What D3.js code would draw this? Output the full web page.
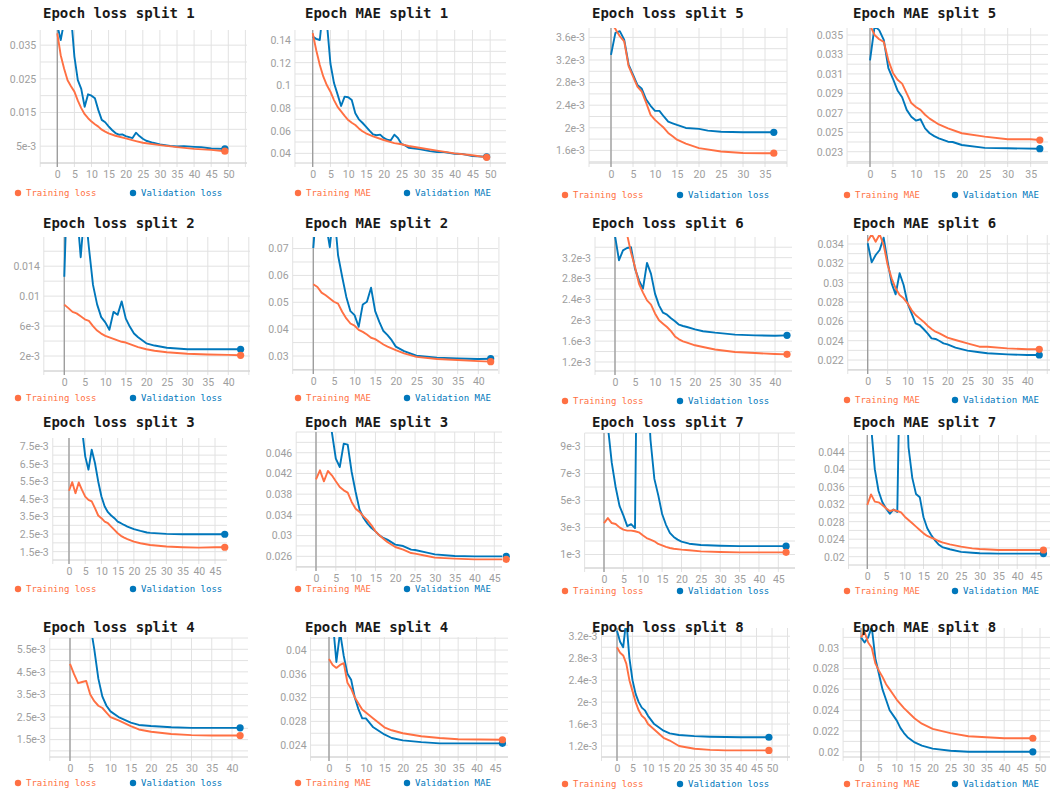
<!DOCTYPE html>
<html>
<head>
<meta charset="utf-8">
<script src="https://cdn.jsdelivr.net/npm/d3@7"></script>
<style>
  body { margin: 0; background: #fff; }
</style>
</head>
<body>
<svg class="chart"></svg>
<script>
var width = 1052,
    height = 794;

// ---- data: [epoch, value] ----
var loss1Train = [[0,.0385],[1,.032],[2,.028],[3,.0246],[4,.0228],[5,.0212],[6,.0185],[7,.0163],[8,.0145],[9,.0133],[10,.0123],[11,.0115],[12,.0108],[13,.0099],[14,.0093],[15,.0088],[17,.0081],[20,.0073],[23,.0065],[25,.006],[30,.0053],[35,.0047],[40,.0042],[45,.0039],[49,.0035]];
var loss1Val = [[0,.041],[1,.0365],[2,.042],[3,.048],[4,.044],[5,.0316],[6,.0246],[7,.022],[8,.0167],[9,.0204],[10,.02],[11,.0192],[12,.0157],[13,.0128],[14,.0121],[15,.0109],[16,.0098],[17,.0089],[18,.0084],[19,.0085],[20,.008],[21,.0077],[22,.0074],[23,.009],[24,.008],[25,.0072],[26,.0066],[28,.006],[30,.0055],[33,.0051],[35,.0049],[37,.005],[40,.0048],[42,.0047],[45,.0043],[49,.0042]];
var mae1Train = [[0,.146],[1,.131],[2,.118],[3,.1076],[4,.1],[5,.0944],[6,.087],[7,.081],[8,.077],[9,.073],[10,.0694],[11,.067],[12,.065],[13,.062],[14,.0595],[15,.0577],[17,.055],[20,.0518],[23,.049],[25,.048],[27,.0465],[30,.045],[35,.0424],[40,.04],[45,.0383],[49,.0365]];
var mae1Val = [[0,.143],[1,.141],[2,.14],[3,.17],[4,.155],[5,.119],[6,.102],[7,.092],[8,.0818],[9,.09],[10,.0895],[11,.087],[12,.0753],[13,.07],[14,.067],[15,.0635],[16,.06],[17,.0568],[18,.056],[19,.0565],[20,.0536],[21,.052],[22,.0515],[23,.0565],[24,.0536],[25,.0483],[26,.047],[27,.045],[30,.0438],[33,.042],[35,.0412],[37,.0412],[40,.0396],[42,.0395],[45,.0376],[49,.037]];

var loss2Train = [[0,.00887],[1,.0084],[2,.0079],[3,.0077],[4,.0073],[5,.0069],[6,.0067],[7,.006],[8,.0054],[9,.005],[10,.0047],[11,.0045],[12,.0043],[13,.0041],[14,.0039],[15,.0038],[16,.0036],[17,.0034],[18,.0032],[20,.0029],[22,.0027],[25,.0025],[30,.0023],[35,.0022],[40,.00215],[43,.0021]];
var loss2Val = [[0,.0126],[1,.03],[2,.028],[3,.022],[4,.0152],[5,.022],[6,.0165],[7,.0115],[8,.0089],[9,.0072],[10,.0065],[11,.0055],[12,.0079],[13,.0075],[14,.0093],[15,.007],[16,.0059],[17,.005],[18,.0045],[19,.0041],[20,.0037],[22,.0034],[25,.0031],[30,.0029],[35,.0029],[40,.0029],[43,.0029]];
var mae2Train = [[0,.0567],[1,.0557],[2,.0536],[3,.0526],[4,.0514],[5,.0502],[6,.0495],[7,.0465],[8,.044],[9,.0421],[10,.0413],[11,.0397],[12,.039],[13,.038],[14,.0368],[15,.0363],[16,.0353],[17,.0343],[18,.0335],[20,.0322],[22,.031],[25,.0297],[30,.0289],[35,.0285],[40,.0281],[43,.0279]];
var mae2Val = [[0,.0702],[1,.09],[2,.085],[3,.08],[4,.0705],[5,.085],[6,.0675],[7,.0595],[8,.052],[9,.0467],[10,.0452],[11,.0409],[12,.0492],[13,.0502],[14,.0554],[15,.0467],[16,.0427],[17,.0393],[18,.0378],[19,.0359],[20,.0335],[22,.0318],[25,.0301],[30,.0294],[35,.0291],[40,.0289],[43,.029]];

var loss3Train = [[0,4.97e-3],[1,5.46e-3],[2,4.83e-3],[3,5.44e-3],[4,5.02e-3],[5,4.64e-3],[6,4.45e-3],[7,4.36e-3],[8,3.98e-3],[9,3.56e-3],[10,3.405e-3],[11,3.21e-3],[12,3.12e-3],[13,2.93e-3],[14,2.74e-3],[15,2.55e-3],[16,2.4e-3],[17,2.3e-3],[18,2.22e-3],[20,2.07e-3],[22,1.98e-3],[25,1.88e-3],[30,1.79e-3],[35,1.75e-3],[40,1.73e-3],[45,1.75e-3],[48,1.75e-3]];
var loss3Val = [[0,.012],[1,.011],[2,.01],[3,.0095],[4,.0085],[5,6.93e-3],[6,6.17e-3],[7,7.31e-3],[8,6.55e-3],[9,5.5e-3],[10,4.64e-3],[11,4.07e-3],[12,3.75e-3],[13,3.56e-3],[14,3.405e-3],[15,3.21e-3],[16,3.12e-3],[17,3.02e-3],[18,2.93e-3],[20,2.78e-3],[22,2.68e-3],[24,2.59e-3],[25,2.57e-3],[30,2.51e-3],[35,2.49e-3],[40,2.49e-3],[48,2.49e-3]];
var mae3Train = [[0,.04086],[1,.0426],[2,.04048],[3,.04247],[4,.04164],[5,.04048],[6,.03938],[7,.03874],[8,.03829],[9,.03649],[10,.0352],[11,.03456],[12,.03372],[13,.03295],[14,.03198],[15,.03082],[16,.03005],[17,.02941],[18,.02877],[20,.0278],[22,.02729],[24,.02664],[25,.02651],[28,.02606],[30,.02574],[35,.02555],[40,.02542],[45,.02542],[48,.02542]];
var mae3Val = [[0,.06],[1,.058],[2,.055],[3,.052],[4,.05],[5,.04485],[6,.04325],[7,.04775],[8,.04756],[9,.04228],[10,.03842],[11,.03501],[12,.0334],[13,.03231],[14,.03147],[15,.03082],[16,.03005],[17,.02954],[18,.02922],[20,.02825],[22,.02799],[24,.02729],[25,.02722],[28,.02671],[30,.02638],[35,.02606],[40,.026],[48,.026]];

var loss4Train = [[0,4.85e-3],[1,4.4e-3],[2,4e-3],[3,4.05e-3],[4,4.1e-3],[5,3.5e-3],[6,3.2e-3],[7,3e-3],[8,2.9e-3],[9,2.7e-3],[10,2.5e-3],[12,2.35e-3],[15,2.1e-3],[17,1.95e-3],[20,1.85e-3],[25,1.75e-3],[30,1.7e-3],[35,1.68e-3],[42,1.68e-3]];
var loss4Val = [[0,.012],[1,.011],[2,.01],[3,.009],[4,.008],[5,6.6e-3],[6,5.5e-3],[7,4.2e-3],[8,3.4e-3],[9,3e-3],[10,2.75e-3],[12,2.5e-3],[15,2.25e-3],[17,2.15e-3],[20,2.1e-3],[25,2.05e-3],[30,2.02e-3],[42,2.02e-3]];
var mae4Train = [[0,.0385],[1,.0375],[2,.037],[3,.0375],[4,.0378],[5,.0345],[6,.0335],[7,.032],[8,.031],[9,.03],[10,.0295],[12,.0285],[15,.027],[17,.0265],[20,.026],[25,.0255],[30,.0252],[35,.025],[47,.0249]];
var mae4Val = [[0,.05],[1,.045],[2,.038],[3,.043],[4,.039],[5,.036],[6,.035],[7,.032],[8,.03],[9,.0285],[10,.0285],[12,.027],[15,.0258],[17,.0252],[20,.0248],[25,.0245],[30,.0243],[47,.0243]];

var loss5Train = [[0,3.85e-3],[1,3.75e-3],[2,3.62e-3],[3,3.53e-3],[4,3.09e-3],[5,2.91e-3],[6,2.73e-3],[7,2.64e-3],[8,2.44e-3],[9,2.23e-3],[10,2.14e-3],[11,2.07e-3],[12,2e-3],[13,1.91e-3],[14,1.85e-3],[15,1.79e-3],[17,1.72e-3],[20,1.64e-3],[25,1.58e-3],[30,1.555e-3],[35,1.55e-3],[37,1.55e-3]];
var loss5Val = [[0,3.29e-3],[1,3.68e-3],[2,3.71e-3],[3,3.56e-3],[4,3.12e-3],[5,2.94e-3],[6,2.76e-3],[7,2.69e-3],[8,2.5e-3],[9,2.39e-3],[10,2.3e-3],[11,2.3e-3],[12,2.2e-3],[13,2.11e-3],[14,2.08e-3],[15,2.05e-3],[17,1.997e-3],[20,1.98e-3],[22,1.95e-3],[25,1.93e-3],[30,1.92e-3],[35,1.92e-3],[37,1.92e-3]];
var mae5Train = [[0,.036],[1,.035],[2,.03456],[3,.0343],[4,.0324],[5,.0311],[6,.0304],[7,.03],[8,.029],[9,.028],[10,.0276],[11,.0273],[12,.0268],[13,.0264],[15,.0258],[17,.02541],[20,.0249],[25,.02455],[30,.02428],[35,.02428],[37,.0242]];
var mae5Val = [[0,.0324],[1,.0359],[2,.0355],[3,.0345],[4,.0316],[5,.0305],[6,.0293],[7,.0286],[8,.0273],[9,.0266],[10,.0262],[11,.02634],[12,.0254],[13,.0249],[14,.0246],[15,.02438],[17,.02403],[18,.024],[20,.02369],[25,.0234],[30,.02335],[37,.02331]];

var loss6Train = [[0,3.9e-3],[1,3.8e-3],[2,3.75e-3],[3,3.65e-3],[4,3.3e-3],[5,3.02e-3],[6,2.7e-3],[7,2.53e-3],[8,2.38e-3],[9,2.3e-3],[10,2.13e-3],[11,2e-3],[12,1.934e-3],[13,1.87e-3],[14,1.79e-3],[15,1.69e-3],[16,1.634e-3],[17,1.596e-3],[18,1.57e-3],[20,1.52e-3],[22,1.487e-3],[25,1.44e-3],[30,1.39e-3],[35,1.372e-3],[40,1.353e-3],[43,1.346e-3]];
var loss6Val = [[0,3.62e-3],[1,3.15e-3],[2,3.34e-3],[3,3.385e-3],[4,3.4e-3],[5,2.99e-3],[6,2.765e-3],[7,2.605e-3],[8,3.1e-3],[9,2.89e-3],[10,2.51e-3],[11,2.286e-3],[12,2.145e-3],[13,2.107e-3],[14,2.04e-3],[15,1.98e-3],[16,1.915e-3],[17,1.89e-3],[18,1.87e-3],[20,1.826e-3],[22,1.79e-3],[25,1.762e-3],[30,1.724e-3],[35,1.71e-3],[40,1.704e-3],[43,1.71e-3]];
var mae6Train = [[0,.03431],[1,.035],[2,.03424],[3,.035],[4,.0339],[5,.03183],[6,.03045],[7,.02942],[8,.02873],[9,.02838],[10,.02786],[11,.02717],[12,.02666],[13,.02631],[14,.02597],[15,.02555],[16,.02521],[17,.02493],[18,.02476],[20,.02431],[22,.02407],[25,.02373],[28,.02338],[30,.02338],[35,.02321],[40,.02311],[43,.02311]];
var mae6Val = [[0,.03407],[1,.0321],[2,.03286],[3,.03338],[4,.03466],[5,.03217],[6,.02993],[7,.02879],[8,.03097],[9,.02976],[10,.02786],[11,.02683],[12,.0258],[13,.02562],[14,.02521],[15,.02476],[16,.02424],[17,.02418],[18,.02397],[19,.02373],[20,.02362],[22,.02328],[25,.02297],[28,.0228],[30,.0227],[35,.02259],[40,.02252],[43,.02252]];

var loss7Train = [[0,3.33e-3],[1,3.7e-3],[2,3.33e-3],[3,3.26e-3],[4,3.01e-3],[5,2.84e-3],[6,2.77e-3],[7,2.77e-3],[8,2.72e-3],[9,2.64e-3],[10,2.42e-3],[11,2.22e-3],[12,2.1e-3],[13,1.98e-3],[14,1.78e-3],[15,1.68e-3],[16,1.56e-3],[17,1.48e-3],[18,1.43e-3],[20,1.36e-3],[22,1.31e-3],[25,1.23e-3],[30,1.19e-3],[35,1.16e-3],[40,1.16e-3],[47,1.16e-3]];
var loss7Val = [[0,.016],[1,.0105],[2,7.8e-3],[3,6e-3],[4,4.6e-3],[5,3.9e-3],[6,3.1e-3],[7,3.25e-3],[8,2.95e-3],[9,.03],[10,.025],[11,.015],[12,9.5e-3],[13,6.6e-3],[14,5.4e-3],[15,4e-3],[16,3.2e-3],[17,2.6e-3],[18,2.3e-3],[19,2.1e-3],[20,1.95e-3],[22,1.8e-3],[25,1.7e-3],[30,1.65e-3],[35,1.62e-3],[40,1.62e-3],[47,1.62e-3]];
var mae7Train = [[0,.03181],[1,.03424],[2,.03257],[3,.03242],[4,.03181],[5,.03105],[6,.03044],[7,.03066],[8,.03044],[9,.03013],[10,.02914],[11,.02838],[12,.02762],[13,.02686],[14,.0261],[15,.02533],[16,.02473],[17,.02434],[18,.02404],[19,.02358],[20,.02328],[22,.02282],[25,.02229],[28,.02191],[30,.02176],[35,.02153],[40,.02153],[47,.02153]];
var mae7Val = [[0,.06],[1,.05],[2,.04],[3,.035],[4,.0325],[5,.031],[6,.0298],[7,.0308],[8,.0302],[9,.08],[10,.07],[11,.045],[12,.038],[13,.0343],[14,.0336],[15,.029],[16,.0265],[17,.025],[18,.0238],[19,.0228],[20,.0222],[22,.0217],[25,.0211],[28,.0209],[30,.0208],[35,.0207],[47,.0207]];

var loss8Train = [[0,3e-3],[1,2.9e-3],[2,2.85e-3],[3,2.7e-3],[4,2.4e-3],[5,2.2e-3],[6,2e-3],[7,1.85e-3],[8,1.75e-3],[9,1.7e-3],[10,1.6e-3],[12,1.5e-3],[15,1.35e-3],[17,1.3e-3],[20,1.2e-3],[25,1.15e-3],[30,1.13e-3],[35,1.12e-3],[49,1.12e-3]];
var loss8Val = [[0,3.3e-3],[1,3.1e-3],[2,3e-3],[3,3.5e-3],[4,2.8e-3],[5,2.4e-3],[6,2.15e-3],[7,2e-3],[8,1.9e-3],[9,1.85e-3],[10,1.75e-3],[12,1.6e-3],[15,1.48e-3],[17,1.43e-3],[20,1.4e-3],[25,1.38e-3],[30,1.37e-3],[40,1.36e-3],[49,1.36e-3]];
var mae8Train = [[0,.031],[1,.0315],[2,.0305],[3,.03],[4,.0285],[5,.0278],[6,.0272],[7,.0265],[8,.026],[9,.0255],[10,.025],[12,.0242],[15,.0232],[17,.0227],[20,.0222],[25,.0218],[30,.0215],[35,.0214],[40,.0213],[48,.0213]];
var mae8Val = [[0,.031],[1,.0305],[2,.031],[3,.032],[4,.029],[5,.0275],[6,.026],[7,.025],[8,.024],[9,.0235],[10,.023],[11,.0223],[12,.0218],[13,.0214],[15,.0209],[17,.0206],[20,.0203],[25,.0201],[30,.02],[48,.02]];

// ---- tick labels ----
var epochs35 = [0, 5, 10, 15, 20, 25, 30, 35];
var epochs40 = [0, 5, 10, 15, 20, 25, 30, 35, 40];
var epochs45 = [0, 5, 10, 15, 20, 25, 30, 35, 40, 45];
var epochs50 = [0, 5, 10, 15, 20, 25, 30, 35, 40, 45, 50];

var loss1Ticks = [.005, .015, .025, .035];
var mae1Ticks = [.04, .06, .08, .1, .12, .14];
var loss5Ticks = [1.6e-3, 2e-3, 2.4e-3, 2.8e-3, 3.2e-3, 3.6e-3];
var mae5Ticks = [.023, .025, .027, .029, .031, .033, .035];
var loss2Ticks = [.002, .006, .01, .014];
var mae2Ticks = [.03, .04, .05, .06, .07];
var loss6Ticks = [1.2e-3, 1.6e-3, 2e-3, 2.4e-3, 2.8e-3, 3.2e-3];
var mae6Ticks = [.022, .024, .026, .028, .03, .032, .034];
var loss3Ticks = [1.5e-3, 2.5e-3, 3.5e-3, 4.5e-3, 5.5e-3, 6.5e-3, 7.5e-3];
var mae3Ticks = [.026, .03, .034, .038, .042, .046];
var loss7Ticks = [1e-3, 3e-3, 5e-3, 7e-3, 9e-3];
var mae7Ticks = [.02, .024, .028, .032, .036, .04, .044];
var loss4Ticks = [1.5e-3, 2.5e-3, 3.5e-3, 4.5e-3, 5.5e-3];
var mae4Ticks = [.024, .028, .032, .036, .04];
var loss8Ticks = [1.2e-3, 1.6e-3, 2e-3, 2.4e-3, 2.8e-3, 3.2e-3];
var mae8Ticks = [.02, .022, .024, .026, .028, .03];

var panels = [
  {title: "Epoch loss split 1", kind: "loss", train: loss1Train, val: loss1Val, yTicks: loss1Ticks, xTicks: epochs50},
  {title: "Epoch MAE split 1", kind: "MAE", train: mae1Train, val: mae1Val, yTicks: mae1Ticks, xTicks: epochs50},
  {title: "Epoch loss split 5", kind: "loss", train: loss5Train, val: loss5Val, yTicks: loss5Ticks, xTicks: epochs35},
  {title: "Epoch MAE split 5", kind: "MAE", train: mae5Train, val: mae5Val, yTicks: mae5Ticks, xTicks: epochs35},
  {title: "Epoch loss split 2", kind: "loss", train: loss2Train, val: loss2Val, yTicks: loss2Ticks, xTicks: epochs40},
  {title: "Epoch MAE split 2", kind: "MAE", train: mae2Train, val: mae2Val, yTicks: mae2Ticks, xTicks: epochs40},
  {title: "Epoch loss split 6", kind: "loss", train: loss6Train, val: loss6Val, yTicks: loss6Ticks, xTicks: epochs40},
  {title: "Epoch MAE split 6", kind: "MAE", train: mae6Train, val: mae6Val, yTicks: mae6Ticks, xTicks: epochs40},
  {title: "Epoch loss split 3", kind: "loss", train: loss3Train, val: loss3Val, yTicks: loss3Ticks, xTicks: epochs45},
  {title: "Epoch MAE split 3", kind: "MAE", train: mae3Train, val: mae3Val, yTicks: mae3Ticks, xTicks: epochs45},
  {title: "Epoch loss split 7", kind: "loss", train: loss7Train, val: loss7Val, yTicks: loss7Ticks, xTicks: epochs45},
  {title: "Epoch MAE split 7", kind: "MAE", train: mae7Train, val: mae7Val, yTicks: mae7Ticks, xTicks: epochs45},
  {title: "Epoch loss split 4", kind: "loss", train: loss4Train, val: loss4Val, yTicks: loss4Ticks, xTicks: epochs40},
  {title: "Epoch MAE split 4", kind: "MAE", train: mae4Train, val: mae4Val, yTicks: mae4Ticks, xTicks: epochs45},
  {title: "Epoch loss split 8", kind: "loss", train: loss8Train, val: loss8Val, yTicks: loss8Ticks, xTicks: epochs50},
  {title: "Epoch MAE split 8", kind: "MAE", train: mae8Train, val: mae8Val, yTicks: mae8Ticks, xTicks: epochs50}
];

// ---- layout: x0 = pixel of epoch 0, ppe = pixels per epoch ----
var titleX = [43, 305, 592, 853],
    titleY = [18, 228, 427, 632],
    legendX = [18, 298, 565, 847],
    legendX2 = [133, 407, 680, 955],
    legendY = [[193, 193, 195, 195], [398, 398, 401, 400], [589, 589, 591, 591], [783, 783, 784, 784]];

var layout = [
  {x0: 57.3, ppe: 3.42, right: 247, top: 30, bottom: 163, yDomain: [0, .0395], minor: .005},
  {x0: 312.7, ppe: 3.55, right: 506, top: 30, bottom: 163, yDomain: [.0315, .1488], minor: .01},
  {x0: 611, ppe: 4.4, right: 787, top: 28, bottom: 163, yDomain: [1.377e-3, 3.766e-3], minor: .2e-3},
  {x0: 870, ppe: 4.59, right: 1048, top: 28, bottom: 163, yDomain: [.02184, .03572], minor: .001},
  {x0: 64.3, ppe: 4.1, right: 250, top: 237, bottom: 371, yDomain: [0, .0179], minor: .002},
  {x0: 313.3, ppe: 4.125, right: 498, top: 237, bottom: 370, yDomain: [.0248, .0743], minor: .005},
  {x0: 615, ppe: 4, right: 792, top: 237, bottom: 371, yDomain: [1.027e-3, 3.596e-3], minor: .2e-3},
  {x0: 867.7, ppe: 3.99, right: 1050, top: 235, bottom: 370, yDomain: [.02097, .03493], minor: .001},
  {x0: 69, ppe: 3.245, right: 227, top: 438, bottom: 560, yDomain: [1.024e-3, 7.976e-3], minor: .5e-3},
  {x0: 316, ppe: 3.963, right: 502, top: 432, bottom: 567, yDomain: [.02394, .05], minor: .002},
  {x0: 604, ppe: 3.874, right: 795, top: 433, bottom: 568, yDomain: [0, .01], minor: .001},
  {x0: 867.3, ppe: 3.748, right: 1050, top: 435, bottom: 565, yDomain: [.0181, .0478], minor: .002},
  {x0: 70, ppe: 4.05, right: 248, top: 638, bottom: 757, yDomain: [.73e-3, 6e-3], minor: .5e-3},
  {x0: 329, ppe: 3.69, right: 508, top: 637, bottom: 757, yDomain: [.0220, .0422], minor: .002},
  {x0: 617, ppe: 3.1, right: 790, top: 628, bottom: 757, yDomain: [1.0e-3, 3.35e-3], minor: .2e-3},
  {x0: 861, ppe: 3.58, right: 1050, top: 628, bottom: 757, yDomain: [.0195, .0319], minor: .001}
];

var trainColor = "#ff7043",
    valColor = "#0077bb",
    mono = "'DejaVu Sans Mono', monospace";

function fmt(v) {
  if (v < .0099) return (+(v * 1000).toFixed(2)) + "e-3";
  return String(+v.toFixed(4));
}

var chart = d3.select(".chart")
    .attr("width", width)
    .attr("height", height)
    .style("background", "#fff");

var defs = chart.append("defs");

panels.forEach(function(p, i) {
  var L = layout[i],
      row = Math.floor(i / 4),
      col = i % 4;
  var left = L.x0 - 5 * L.ppe,
      xMax = (L.right - L.x0) / L.ppe;

  var x = d3.scaleLinear().domain([-5, xMax]).range([left, L.right]);
  var y = d3.scaleLinear().domain(L.yDomain).range([L.bottom, L.top]);

  var g = chart.append("g");

  // grid
  var hLines = d3.range(Math.ceil(L.yDomain[0] / L.minor - 1e-6), Math.floor(L.yDomain[1] / L.minor + 1e-6) + 1)
      .map(function(k) { return k * L.minor; });
  g.selectAll(".hgrid")
      .data(hLines)
    .enter().append("line")
      .attr("x1", left).attr("x2", L.right)
      .attr("y1", function(d) { return y(d); })
      .attr("y2", function(d) { return y(d); })
      .attr("stroke", "#e2e2e2");

  var vLines = d3.range(-5, xMax + 0.3, 5);
  g.selectAll(".vgrid")
      .data(vLines)
    .enter().append("line")
      .attr("x1", function(d) { return x(d); })
      .attr("x2", function(d) { return x(d); })
      .attr("y1", L.top).attr("y2", L.bottom + 4)
      .attr("stroke", "#e2e2e2");

  g.append("line")
      .attr("x1", left).attr("x2", L.right)
      .attr("y1", L.bottom).attr("y2", L.bottom)
      .attr("stroke", "#d0d0d0");

  g.append("line")
      .attr("x1", x(0)).attr("x2", x(0))
      .attr("y1", L.top).attr("y2", L.bottom + 4)
      .attr("stroke", "#9a9a9a")
      .attr("stroke-width", 1.3);

  // axes
  var yAxis = g.append("g")
      .attr("transform", "translate(" + (left - 4) + ",0)")
      .call(d3.axisLeft(y).tickValues(p.yTicks).tickFormat(fmt).tickSize(0).tickPadding(0));
  var xAxis = g.append("g")
      .attr("transform", "translate(0," + (L.bottom + 8) + ")")
      .call(d3.axisBottom(x).tickValues(p.xTicks).tickFormat(d3.format("d")).tickSize(0).tickPadding(0));
  [yAxis, xAxis].forEach(function(a) {
    a.select(".domain").remove();
    a.attr("font-family", "Roboto, sans-serif").attr("font-size", 10.5);
    a.selectAll("text").attr("fill", "#9e9e9e");
  });

  // lines
  defs.append("clipPath").attr("id", "clip" + i)
    .append("rect")
      .attr("x", left).attr("y", L.top)
      .attr("width", L.right - left).attr("height", L.bottom - L.top);

  var line = d3.line()
      .x(function(d) { return x(d[0]); })
      .y(function(d) { return y(d[1]); });

  var series = [{data: p.val, color: valColor}, {data: p.train, color: trainColor}];
  series.forEach(function(s) {
    g.append("path")
        .datum(s.data)
        .attr("clip-path", "url(#clip" + i + ")")
        .attr("fill", "none")
        .attr("stroke", s.color)
        .attr("stroke-width", 1.9)
        .attr("stroke-linejoin", "round")
        .attr("d", line);
  });
  series.forEach(function(s) {
    var last = s.data[s.data.length - 1];
    g.append("circle")
        .attr("cx", x(last[0]))
        .attr("cy", y(last[1]))
        .attr("r", 3.6)
        .attr("fill", s.color);
  });

  // title
  g.append("text")
      .attr("x", titleX[col])
      .attr("y", titleY[row])
      .attr("font-family", mono)
      .attr("font-size", 14)
      .attr("font-weight", "bold")
      .attr("fill", "#1a1a1a")
      .text(p.title);

  // legend
  var ly = legendY[row][col];
  var items = [
    {x: legendX[col], color: trainColor, label: "Training " + p.kind},
    {x: legendX2[col], color: valColor, label: "Validation " + p.kind}
  ];
  items.forEach(function(it) {
    g.append("circle")
        .attr("cx", it.x).attr("cy", ly)
        .attr("r", 3.2)
        .attr("fill", it.color);
    g.append("text")
        .attr("x", it.x + 8)
        .attr("y", ly + 3.2)
        .attr("font-family", mono)
        .attr("font-size", 9)
        .attr("fill", it.color)
        .text(it.label);
  });
});
</script>
</body>
</html>
